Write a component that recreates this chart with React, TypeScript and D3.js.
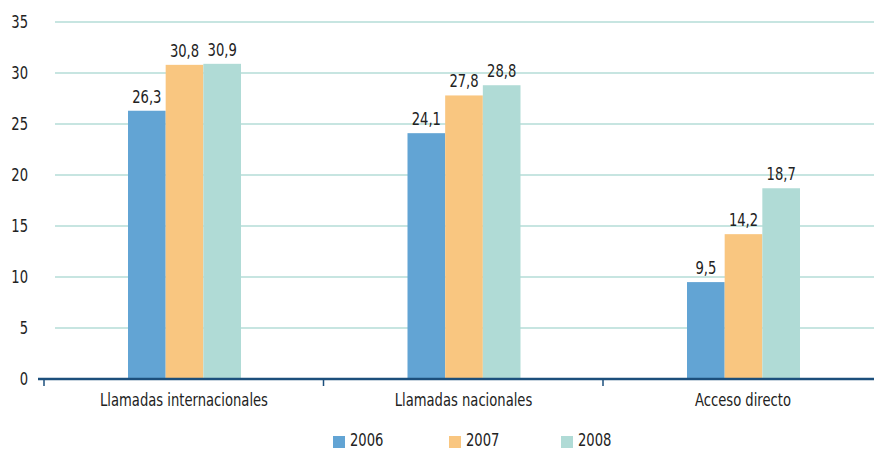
import { useEffect, useRef } from "react";
import * as d3 from "d3";

const categories = ["Llamadas internacionales", "Llamadas nacionales", "Acceso directo"];
const years = ["2006", "2007", "2008"];
const values2006 = [26.3, 24.1, 9.5];
const values2007 = [30.8, 27.8, 14.2];
const values2008 = [30.9, 28.8, 18.7];
const yTicks = [0, 5, 10, 15, 20, 25, 30, 35];
const colors = ["#62a4d4", "#f9c680", "#b0dbd6"];

const FONT = "'Liberation Sans Narrow', 'DejaVu Sans Condensed', sans-serif";
const SQUEEZE = 0.86;

export default function App() {
  const ref = useRef<SVGSVGElement>(null);

  useEffect(() => {
    const svg = d3.select(ref.current);
    svg.selectAll("*").remove();

    const width = 874;
    const left = 44;
    const right = 882.5;
    const top = 22;
    const bottom = 379;

    const series = [values2006, values2007, values2008];

    const x = d3.scaleBand().domain(categories).range([left, right]);
    const inner = d3.scaleBand().domain(years).range([84, 197]);
    const y = d3.scaleLinear().domain([0, 35]).range([bottom, top]);

    // condensed text helper
    const label = (tx: number, ty: number, txt: string, anchor = "middle", size = 17) =>
      svg
        .append("text")
        .attr("transform", `translate(${tx},${ty}) scale(${SQUEEZE},1)`)
        .attr("text-anchor", anchor)
        .attr("font-family", FONT)
        .attr("font-size", size)
        .attr("fill", "#222")
        .text(txt);

    // gridlines
    svg
      .append("g")
      .selectAll("line")
      .data(yTicks.filter((d) => d > 0))
      .enter()
      .append("line")
      .attr("x1", 55)
      .attr("x2", width)
      .attr("y1", (d) => y(d))
      .attr("y2", (d) => y(d))
      .attr("stroke", "#b5ddd7")
      .attr("stroke-width", 1.5);

    // y labels
    yTicks.forEach((d) => label(28, y(d) + 6, String(d), "end"));

    // bars
    categories.forEach((c, i) => {
      const gx = x(c)!;
      years.forEach((yr, j) => {
        const v = series[j][i];
        svg
          .append("rect")
          .attr("x", gx + inner(yr)!)
          .attr("y", y(v))
          .attr("width", inner.bandwidth())
          .attr("height", bottom - y(v))
          .attr("fill", colors[j]);
        label(gx + inner(yr)! + inner.bandwidth() / 2, y(v) - 8, String(v).replace(".", ","));
      });
    });

    // x axis
    svg
      .append("line")
      .attr("x1", 38)
      .attr("x2", width)
      .attr("y1", bottom)
      .attr("y2", bottom)
      .attr("stroke", "#1c4f7c")
      .attr("stroke-width", 2.5);

    svg
      .append("g")
      .selectAll("line")
      .data(categories)
      .enter()
      .append("line")
      .attr("x1", (d) => x(d)!)
      .attr("x2", (d) => x(d)!)
      .attr("y1", bottom)
      .attr("y2", bottom + 7)
      .attr("stroke", "#1c4f7c")
      .attr("stroke-width", 1.5);

    categories.forEach((c) => label(x(c)! + 140, bottom + 27, c));

    // legend
    const legendX = [333, 449, 561];
    years.forEach((yr, j) => {
      svg
        .append("rect")
        .attr("x", legendX[j])
        .attr("y", 436)
        .attr("width", 12)
        .attr("height", 12)
        .attr("fill", colors[j]);
      label(legendX[j] + 17, 446, yr, "start", 17);
    });
  }, []);

  return (
    <svg
      ref={ref}
      width={874}
      height={452}
      style={{ position: "absolute", left: 0, top: 0, background: "#fff" }}
    ></svg>
  );
}
